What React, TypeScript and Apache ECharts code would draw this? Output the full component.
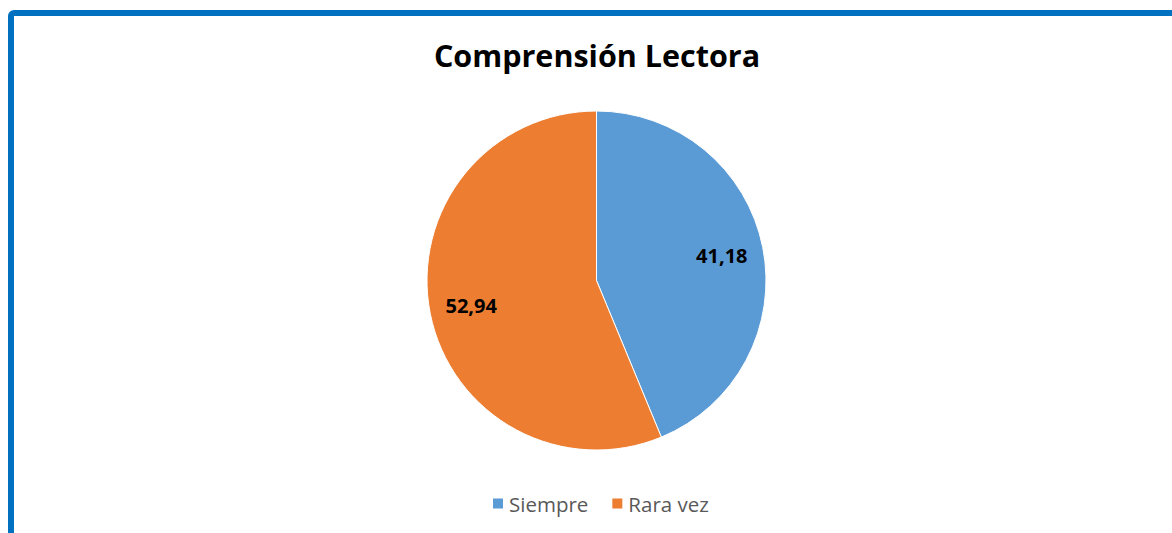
import React, { useEffect, useRef } from "react";
import * as echarts from "echarts";

const categories = ["Siempre", "Rara vez"];
const values = [41.18, 52.94];
const colors = ["#5B9BD5", "#ED7D31"];
const titleText = "Comprensión Lectora";

export default function App() {
  const ref = useRef<HTMLDivElement>(null);
  useEffect(() => {
    if (!ref.current) return;
    const chart = echarts.init(ref.current, null, { renderer: "svg" });
    const data = categories.map((name, i) => ({
      name,
      value: values[i],
      itemStyle: { color: colors[i] },
    }));
    chart.setOption({
      animation: false,
      backgroundColor: "#ffffff",
      title: {
        text: titleText,
        left: 592,
        textAlign: "center",
        top: 34,
        textStyle: {
          fontFamily: "Open Sans",
          fontWeight: "bold",
          fontSize: 30.5,
          color: "#000000",
        },
      },
      legend: {
        data: categories,
        bottom: 14,
        left: 486,
        itemWidth: 12,
        itemHeight: 12,
        itemGap: 22,
        icon: "rect",
        textStyle: {
          fontFamily: "Open Sans",
          fontSize: 20.5,
          color: "#595959",
        },
      },
      graphic: [
        {
          type: "rect",
          shape: { x: 11, y: 13, width: 1300, height: 700, r: 3 },
          style: { fill: "none", stroke: "#0070C0", lineWidth: 6 },
          silent: true,
        },
      ],
      series: [
        {
          type: "pie",
          center: [596.5, 280.5],
          radius: 169.5,
          startAngle: 90,
          clockwise: true,
          data,
          label: { show: false },
          labelLine: { show: false },
          itemStyle: { borderColor: "#ffffff", borderWidth: 1 },
          emphasis: { disabled: true },
        },
        {
          type: "pie",
          center: [596.5, 280.5],
          radius: [80, 169.5],
          startAngle: 90,
          clockwise: true,
          silent: true,
          data: categories.map((name, i) => ({ name, value: values[i] })),
          itemStyle: { color: "rgba(0,0,0,0)" },
          label: {
            show: true,
            position: "inside",
            formatter: (p: any) => p.value.toFixed(2).replace(".", ","),
            fontFamily: "Open Sans",
            fontWeight: "bold",
            fontSize: 20,
            color: "#000000",
          },
          labelLine: { show: false },
          emphasis: { disabled: true },
          legendHoverLink: false,
        },
      ],
    });
    return () => chart.dispose();
  }, []);
  return (
    <div
      ref={ref}
      style={{ position: "fixed", left: 0, top: 0, width: 1172, height: 533 }}
    />
  );
}
